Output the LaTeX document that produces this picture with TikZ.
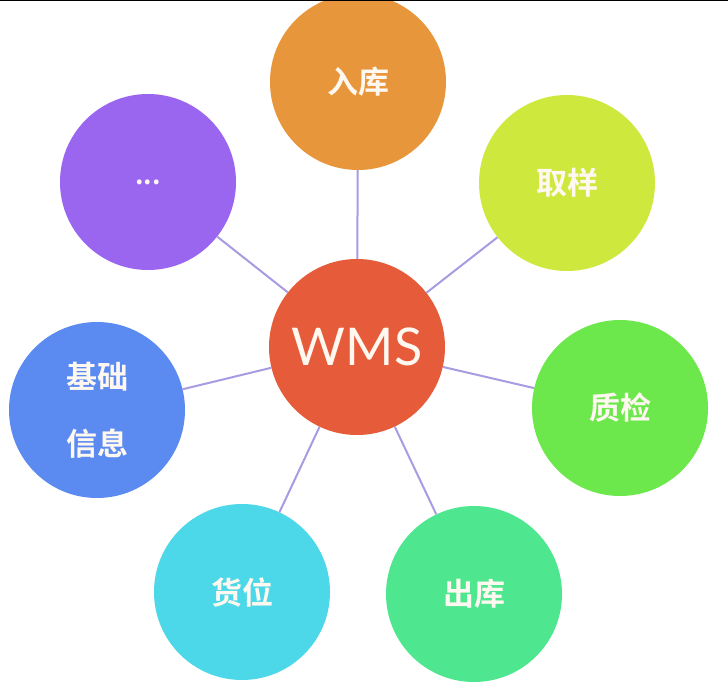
\documentclass[tikz,border=0pt]{standalone}
\usepackage{fontspec}
\newfontfamily\cjk{Noto Sans CJK SC}[BoldFont={* Bold}]
\newfontfamily\latin{Lato}
\definecolor{cIn}{HTML}{E8963C}
\definecolor{cWms}{HTML}{E65C3A}
\definecolor{cSample}{HTML}{CFE83E}
\definecolor{cQc}{HTML}{6CE84C}
\definecolor{cOut}{HTML}{4FE690}
\definecolor{cLoc}{HTML}{4CD8E8}
\definecolor{cBase}{HTML}{5B8BF0}
\definecolor{cMore}{HTML}{9A66F0}
\definecolor{cLink}{HTML}{A89BE2}
\definecolor{cText}{HTML}{FFF8F0}
\begin{document}
\begin{tikzpicture}[x=1pt,y=-1pt,
  bubble/.style={circle,inner sep=0pt,minimum size=176pt,text=cText,
    font=\cjk\bfseries\fontsize{31pt}{67pt}\selectfont,align=center},
  link/.style={draw=cLink,line width=2pt}]
\useasboundingbox (0,0) rectangle (728,690);
\fill[white] (0,0) rectangle (728,690);
\begin{scope}
\clip (0,0) rectangle (728,690);
\node[bubble,fill=cWms,font=\latin\fontsize{52pt}{52pt}\selectfont] (wms) at (357,347) {WMS};
\node[bubble,fill=cIn] (in) at (358,82) {入库};
\node[bubble,fill=cSample] (sample) at (567,183) {取样};
\node[bubble,fill=cQc] (qc) at (620,408) {质检};
\node[bubble,fill=cOut] (out) at (474,594) {出库};
\node[bubble,fill=cLoc] (loc) at (242,592) {货位};
\node[bubble,fill=cBase] (base) at (97,410) {基础\\信息};
\node[bubble,fill=cMore,font=\cjk\bfseries\fontsize{26pt}{26pt}\selectfont] (more) at (148,182) {...};
\foreach \t in {in,sample,qc,out,loc,base,more}
  \draw[link] (wms) -- (\t);
\end{scope}
\draw[black,line width=1.5pt] (0,0.75) -- (728,0.75);
\end{tikzpicture}
\end{document}
